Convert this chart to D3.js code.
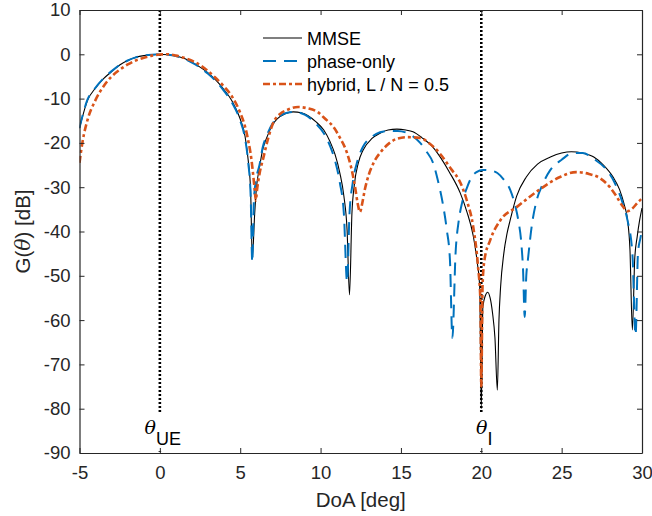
<!DOCTYPE html>
<html>
<head>
<meta charset="utf-8">
<script src="https://cdn.jsdelivr.net/npm/d3@7"></script>
<style>
  body { margin: 0; background: #fff; }
  svg { font-family: "Liberation Sans", Arial, sans-serif; }
</style>
</head>
<body>
<script>
// Define the dimensions of the canvas
const width = 652;
const height = 516;

// Tick values
const xTicks = [-5, 0, 5, 10, 15, 20, 25, 30];
const yTicks = [-90, -80, -70, -60, -50, -40, -30, -20, -10, 0, 10];

// MMSE beam pattern
const mmseDoa = [-5, -4.5, -4, -3.5, -3, -2.5, -2, -1.5, -1, -0.5, 0, 0.5, 1, 1.5, 2, 2.5, 3, 3.5, 4, 4.5, 5, 5.3, 5.5, 5.65, 5.75,
  5.9, 6.0, 6.2, 6.4, 6.65, 7.0, 7.3, 7.8, 8.3, 8.8, 9.2, 9.7, 10.2, 10.6, 10.9, 11.2, 11.45, 11.65, 11.8,
  11.95, 12.1, 12.35, 12.65, 13.2, 13.7, 14.2, 14.75, 15.3, 15.75, 16.3, 17, 17.5, 18.0, 18.7, 19.1, 19.5, 19.75, 19.9, 20.0,
  20.1, 20.25, 20.4, 20.55, 20.7, 20.85, 21.0, 21.1, 21.2, 21.4, 21.6, 21.8, 22.2, 22.8, 23.5, 24.3, 25, 25.6, 26.3, 27, 27.6,
  28.2, 28.6, 28.9, 29.1, 29.25, 29.4, 29.55, 29.7, 29.85, 30];
const mmseGain = [-16.7, -10.4, -7.6, -5.5, -3.9, -2.4, -1.4, -0.7, -0.3, -0.1, 0, -0.1, -0.4, -0.9, -1.8, -2.9, -4.2, -5.9, -8.0, -10.6, -14.6, -18.5, -24, -31, -46,
  -36, -30.5, -25.5, -21.5, -18.8, -16, -14.6, -13.4, -13, -13.2, -13.8, -15.2, -17.1, -19.8, -22.6, -26.8, -32, -39.7, -54.3,
  -36, -29.5, -24.5, -21.6, -19, -17.8, -17.1, -16.9, -17.1, -17.5, -18.8, -21, -23.5, -26.5, -31.4, -35.5, -41, -47, -52.5, -80,
  -57, -54.5, -53.7, -55, -58.4, -64, -75.8, -60, -52.6, -45, -40.5, -37.4, -32, -27.7, -24.8, -23.2, -22.3, -22, -22.3, -23.2, -25,
  -27.7, -30.5, -34, -37.4, -44, -62.2, -46, -41.2, -37.5, -34.7];

// Phase-only beam pattern
const phaseDoa = [-5, -4.5, -4, -3.5, -3, -2.5, -2, -1.5, -1, -0.5, 0, 0.5, 1, 1.5, 2, 2.5, 3, 3.5, 4, 4.5, 5, 5.3, 5.5, 5.65, 5.75,
  5.85, 6.0, 6.2, 6.4, 6.65, 7, 7.3, 7.8, 8.3, 8.8, 9.2, 9.7, 10.2, 10.6, 10.9, 11.2, 11.45, 11.65,
  11.8, 12.0, 12.3, 12.65, 13.2, 13.7, 14.2, 14.8, 15.4, 16.2, 16.6, 17, 17.3, 17.6, 17.85, 18.05, 18.2,
  18.4, 18.6, 18.8, 19.1, 19.4, 19.7, 20.1, 20.5, 21, 21.4, 21.8, 22.1, 22.3, 22.5, 22.6, 22.7,
  22.8, 22.9, 23.15, 23.45, 23.8, 24.3, 25, 25.7, 26.3, 27, 27.8, 28.3, 28.8, 29.1, 29.4, 29.6, 29.75, 29.9, 30];
const phaseGain = [-16.6, -10.2, -7.5, -5.4, -3.8, -2.4, -1.4, -0.7, -0.3, -0.1, 0, -0.1, -0.4, -1.0, -1.9, -3.0, -4.4, -6.1, -8.3, -11, -15, -19, -24.5, -32, -47,
  -33, -28, -25, -21, -18.4, -15.7, -14.4, -13.3, -13, -13.3, -14, -15.6, -17.8, -20.8, -24, -29, -36, -51.4,
  -36, -29, -24, -20.8, -18.6, -17.6, -17.3, -17.3, -17.8, -20, -22, -24.5, -28.5, -33.6, -39.5, -46.4, -64,
  -44.9, -37.5, -33.6, -30.2, -27.7, -26.6, -26.1, -26.2, -26.8, -28.3, -30.6, -34, -37.4, -43, -48.7, -59.3,
  -50, -46.4, -38.5, -32.9, -29.5, -26.1, -23.8, -22.3, -22.3, -23.6, -26.1, -29, -33.6, -37.5, -44.9, -63.4, -44.9, -41.5, -39.7];

// Hybrid (L / N = 0.5) beam pattern
const hybridDoa = [-5, -4.8, -4.5, -4, -3.5, -3, -2.5, -2, -1.5, -1, -0.5, 0, 0.5, 1, 1.5, 2.2, 2.8, 3.4, 4, 4.5, 5, 5.3, 5.5, 5.7, 5.8, 5.9, 5.97,
  6.05, 6.2, 6.45, 6.75, 7.05, 7.5, 7.9, 8.6, 9.2, 9.8, 10.3, 10.8, 11.2, 11.65, 11.9, 12.15, 12.3, 12.45,
  12.6, 12.75, 13.0, 13.3, 13.8, 14.3, 14.8, 15.4, 16.2, 16.8, 17.4, 18.1, 18.7, 19.1, 19.5, 19.8, 19.95, 20.0,
  20.08, 20.2, 20.55, 21.2, 22.2, 23.6, 24.9, 25.9, 26.7, 27.4, 28, 28.4, 28.8, 29.1, 29.4, 29.7, 30];
const hybridGain = [-24.5, -19.5, -14.8, -10.3, -7.2, -5.0, -3.5, -2.3, -1.4, -0.8, -0.3, -0.05, 0, -0.3, -0.8, -1.8, -3.2, -5.1, -7.3, -9.6, -13.2, -16.3, -19.5, -23.8, -27, -30.5, -33,
  -30.5, -27, -23.2, -18.8, -15.5, -13.4, -12.6, -11.9, -12.2, -13, -14.6, -16.4, -18.8, -22.3, -25.5, -30, -33.5, -35.6,
  -33.5, -30.6, -27.2, -24.5, -21.8, -20, -19, -18.7, -18.9, -20.2, -22.3, -25.8, -29, -33, -39, -48, -56, -75,
  -52, -46.4, -42, -37.4, -34.5, -30.6, -27.7, -26.6, -27, -28, -30, -32, -34.3, -35.4, -34.8, -33.6, -32.5];

// Legend labels
const seriesNames = ['MMSE', 'phase-only', 'hybrid, L / N = 0.5'];

const axisColor = '#262626';
const margin = { left: 79.5, right: 10, top: 10, bottom: 63 };

const svg = d3.select('body')
  .append('svg')
  .attr('width', width)
  .attr('height', height);

const x = d3.scaleLinear().domain([-5, 30]).range([margin.left, width - margin.right]);
const y = d3.scaleLinear().domain([-90, 10]).range([height - margin.bottom, margin.top]);

svg.append('defs').append('clipPath').attr('id', 'plot')
  .append('rect')
  .attr('x', x(-5)).attr('y', y(10))
  .attr('width', x(30) - x(-5)).attr('height', y(-90) - y(10));

// Series styles
const series = [
  { name: seriesNames[0], doa: mmseDoa, gain: mmseGain, color: '#000000', width: 1.1, dash: null },
  { name: seriesNames[1], doa: phaseDoa, gain: phaseGain, color: '#0072BD', width: 2, dash: '13,8' },
  { name: seriesNames[2], doa: hybridDoa, gain: hybridGain, color: '#D95319', width: 2.6, dash: '7,3,3,3' }
];

const line = d3.line()
  .x(d => x(d[0]))
  .y(d => y(d[1]))
  .curve(d3.curveMonotoneX);

const plot = svg.append('g').attr('clip-path', 'url(#plot)');

// Reference DoA markers
[0, 20].forEach(v => {
  plot.append('line')
    .attr('x1', x(v)).attr('x2', x(v))
    .attr('y1', y(10)).attr('y2', y(-90))
    .attr('stroke', '#000')
    .attr('stroke-width', 2.6)
    .attr('stroke-dasharray', '2,2');
});

series.forEach(s => {
  plot.append('path')
    .datum(s.doa.map((d, i) => [d, s.gain[i]]))
    .attr('d', line)
    .attr('fill', 'none')
    .attr('stroke', s.color)
    .attr('stroke-width', s.width)
    .attr('stroke-dasharray', s.dash);
});

// Angle labels with white background
const labels = [
  { v: 0, sub: 'UE', x0: -1.0, x1: 1.35 },
  { v: 20, sub: 'I', x0: 19.4, x1: 20.75 }
];
labels.forEach(l => {
  svg.append('rect')
    .attr('x', x(l.x0)).attr('y', y(-80.9))
    .attr('width', x(l.x1) - x(l.x0)).attr('height', y(-89.6) - y(-80.9))
    .attr('fill', '#fff');
  const t = svg.append('text')
    .attr('x', x(l.v) + 3)
    .attr('y', y(-85.7))
    .attr('text-anchor', 'middle')
    .attr('font-size', 19)
    .attr('fill', '#000');
  t.append('tspan')
    .attr('font-family', '"DejaVu Serif", "Liberation Serif", serif')
    .attr('font-style', 'italic')
    .text('θ');
  t.append('tspan')
    .attr('dy', 11)
    .attr('font-size', 18)
    .text(l.sub);
});

// Axes with inward ticks on all four sides
const fontSize = 18.5;
const xAxisB = svg.append('g')
  .attr('transform', `translate(0,${y(-90)})`)
  .call(d3.axisBottom(x).tickValues(xTicks).tickSizeInner(-5).tickSizeOuter(0).tickPadding(13).tickFormat(d3.format('d')));
const xAxisT = svg.append('g')
  .attr('transform', `translate(0,${y(10)})`)
  .call(d3.axisTop(x).tickValues(xTicks).tickSizeInner(-5).tickSizeOuter(0).tickFormat(''));
const yAxisL = svg.append('g')
  .attr('transform', `translate(${x(-5)},0)`)
  .call(d3.axisLeft(y).tickValues(yTicks).tickSizeInner(-5).tickSizeOuter(0).tickPadding(9).tickFormat(d3.format('d')));
const yAxisR = svg.append('g')
  .attr('transform', `translate(${x(30)},0)`)
  .call(d3.axisRight(y).tickValues(yTicks).tickSizeInner(-5).tickSizeOuter(0).tickFormat(''));

[xAxisB, xAxisT, yAxisL, yAxisR].forEach(g => {
  g.select('.domain').attr('stroke', axisColor).attr('stroke-width', 1.2);
  g.selectAll('.tick line').attr('stroke', axisColor);
  g.selectAll('.tick text')
    .attr('fill', axisColor)
    .attr('font-size', fontSize)
    .attr('font-family', '"Liberation Sans", Arial, sans-serif');
});
// MATLAB style hyphen minus
xAxisB.selectAll('.tick text').text(d => String(d).replace('−', '-'));
yAxisL.selectAll('.tick text').text(d => String(d).replace('−', '-'));

// Axis labels
svg.append('text')
  .attr('x', (x(-5) + x(30)) / 2)
  .attr('y', 507)
  .attr('text-anchor', 'middle')
  .attr('font-size', 20.5)
  .attr('fill', axisColor)
  .text('DoA [deg]');

const yl = svg.append('text')
  .attr('transform', `translate(30,${(y(10) + y(-90)) / 2}) rotate(-90)`)
  .attr('text-anchor', 'middle')
  .attr('font-size', 20.5)
  .attr('fill', axisColor);
yl.append('tspan').text('G(');
yl.append('tspan').attr('font-family', '"DejaVu Serif", "Liberation Serif", serif').attr('font-style', 'italic').text('θ');
yl.append('tspan').text(') [dB]');

// Legend
const legend = svg.append('g');
series.forEach((s, i) => {
  const ly = 38 + i * 23;
  legend.append('line')
    .attr('x1', 263).attr('x2', 302)
    .attr('y1', ly).attr('y2', ly)
    .attr('stroke', s.color)
    .attr('stroke-width', s.width)
    .attr('stroke-dasharray', s.dash);
  legend.append('text')
    .attr('x', 307).attr('y', ly + 6.5)
    .attr('font-size', 18)
    .attr('fill', '#000')
    .text(s.name);
});
</script>
</body>
</html>
